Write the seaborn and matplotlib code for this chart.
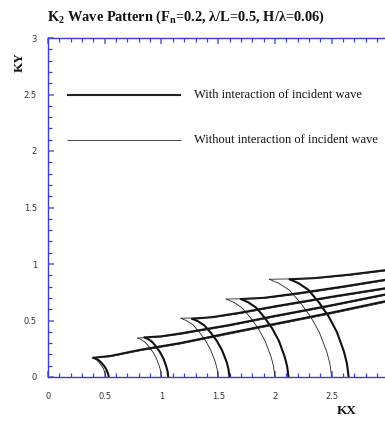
import numpy as np
import pandas as pd
import matplotlib
matplotlib.use("Agg")
import matplotlib.pyplot as plt
import seaborn as sns
from matplotlib.ticker import MultipleLocator, FixedLocator

# ---------------- data ----------------
# transverse wave crests: "with interaction" (thick)
THICK_ARC_X = [
    [0.40, 0.420, 0.443, 0.468, 0.489, 0.508, 0.524, 0.531, 0.535],
    [0.85, 0.882, 0.917, 0.955, 0.989, 1.018, 1.043, 1.054, 1.06],
    [1.27, 1.320, 1.376, 1.435, 1.488, 1.534, 1.574, 1.590, 1.60],
    [1.70, 1.763, 1.834, 1.910, 1.977, 2.036, 2.086, 2.107, 2.12],
    [2.13, 2.208, 2.296, 2.390, 2.473, 2.546, 2.608, 2.634, 2.65],
]
THICK_ARC_Y = [
    [0.17, 0.163, 0.151, 0.129, 0.105, 0.078, 0.044, 0.024, 0.0],
    [0.35, 0.336, 0.312, 0.266, 0.217, 0.161, 0.091, 0.049, 0.0],
    [0.515, 0.494, 0.458, 0.391, 0.319, 0.237, 0.134, 0.072, 0.0],
    [0.69, 0.662, 0.614, 0.524, 0.428, 0.317, 0.179, 0.097, 0.0],
    [0.865, 0.830, 0.770, 0.657, 0.536, 0.398, 0.225, 0.121, 0.0],
]
# transverse wave crests: "without interaction" (thin)
THIN_ARC_X = [
    [0.39, 0.408, 0.428, 0.450, 0.469, 0.486, 0.500, 0.506, 0.51],
    [0.79, 0.822, 0.857, 0.895, 0.929, 0.958, 0.983, 0.994, 1.00],
    [1.17, 1.220, 1.276, 1.335, 1.388, 1.434, 1.474, 1.490, 1.50],
    [1.57, 1.635, 1.708, 1.785, 1.854, 1.914, 1.966, 1.987, 2.00],
    [1.95, 2.033, 2.126, 2.225, 2.313, 2.390, 2.456, 2.484, 2.50],
]
THIN_ARC_Y = [
    [0.17, 0.163, 0.151, 0.129, 0.105, 0.078, 0.044, 0.024, 0.0],
    [0.345, 0.331, 0.307, 0.262, 0.214, 0.159, 0.090, 0.048, 0.0],
    [0.52, 0.499, 0.463, 0.395, 0.322, 0.239, 0.135, 0.073, 0.0],
    [0.69, 0.662, 0.614, 0.524, 0.428, 0.317, 0.179, 0.097, 0.0],
    [0.865, 0.830, 0.770, 0.657, 0.536, 0.398, 0.225, 0.121, 0.0],
]
# divergent wave crests
THICK_DIV_X = [
    [0.40, 0.55, 0.81, 1.165, 1.6, 2.0, 2.5, 2.97],
    [0.85, 1.0, 1.165, 1.6, 2.0, 2.5, 2.97],
    [1.27, 1.45, 1.7, 2.0, 2.5, 2.97],
    [1.70, 1.9, 2.2, 2.6, 2.97],
    [2.13, 2.35, 2.65, 2.97],
]
THICK_DIV_Y = [
    [0.17, 0.186, 0.24, 0.30, 0.39, 0.47, 0.57, 0.67],
    [0.35, 0.36, 0.385, 0.46, 0.54, 0.635, 0.73],
    [0.515, 0.53, 0.57, 0.625, 0.71, 0.785],
    [0.69, 0.70, 0.74, 0.80, 0.86],
    [0.865, 0.875, 0.905, 0.945],
]
THIN_DIV_X = [
    [0.39, 0.55, 0.81, 1.165, 1.6, 2.0, 2.5, 2.97],
    [0.79, 1.0, 1.165, 1.6, 2.0, 2.5, 2.97],
    [1.17, 1.45, 1.7, 2.0, 2.5, 2.97],
    [1.57, 1.9, 2.2, 2.6, 2.97],
    [1.95, 2.35, 2.65, 2.97],
]
THIN_DIV_Y = [
    [0.17, 0.18, 0.232, 0.292, 0.38, 0.46, 0.56, 0.66],
    [0.345, 0.355, 0.377, 0.452, 0.532, 0.627, 0.722],
    [0.52, 0.525, 0.562, 0.617, 0.702, 0.777],
    [0.69, 0.695, 0.732, 0.792, 0.852],
    [0.865, 0.872, 0.899, 0.938],
]
X_TICKS = [0, 0.5, 1, 1.5, 2, 2.5]
X_TICK_LABELS = ["0", "0.5", "1", "1.5", "2", "2.5"]
Y_TICKS = [0, 0.5, 1, 1.5, 2, 2.5, 3]
Y_TICK_LABELS = ["0", "0.5", "1", "1.5", "2", "2.5", "3"]
LEGEND_LABELS = ["With interaction of incident wave",
                 "Without interaction of incident wave"]
LEGEND_X = [0.17, 1.175]
LEGEND_Y = [2.5, 2.1]

# ---------------- build table ----------------
rows = []
cid = 0
for kind, xs_all, ys_all in [("thick", THICK_ARC_X, THICK_ARC_Y),
                             ("thin", THIN_ARC_X, THIN_ARC_Y),
                             ("thick", THICK_DIV_X, THICK_DIV_Y),
                             ("thin", THIN_DIV_X, THIN_DIV_Y)]:
    for xs, ys in zip(xs_all, ys_all):
        for i, (x, y) in enumerate(zip(xs, ys)):
            rows.append(dict(curve=cid, kind=kind, order=i, x=x, y=y))
        cid += 1
df = pd.DataFrame(rows)

# ---------------- style ----------------
sns.set_style("white")
plt.rcParams['font.family'] = ['Liberation Serif', 'DejaVu Sans']
plt.rcParams['mathtext.fontset'] = 'custom'
plt.rcParams['mathtext.rm'] = 'Liberation Serif:bold'
plt.rcParams['mathtext.it'] = 'Liberation Serif:bold'
plt.rcParams['mathtext.bf'] = 'Liberation Serif:bold'

W, H = 385, 424
fig = plt.figure(figsize=(W / 100, H / 100), dpi=100)
fig.patch.set_facecolor("white")
ax = fig.add_axes([48 / W, 1 - 377 / H, 1 - 48 / W, (377 - 38) / H])

styles = {"thick": dict(color="#111111", lw=1.5),
          "thin": dict(color="#222222", lw=0.6)}
for c, sub in df.groupby("curve"):
    k = sub["kind"].iloc[0]
    sns.lineplot(data=sub, x="x", y="y", sort=False, estimator=None,
                 ax=ax, legend=False, **styles[k])

# legend drawn as in reference
lg_style = [dict(color="#222222", lw=1.5), dict(color="#444444", lw=0.7)]
for lab, ly, st in zip(LEGEND_LABELS, LEGEND_Y, lg_style):
    ax.plot(LEGEND_X, [ly, ly], solid_capstyle="butt", **st)
    ax.text(1.29, ly, lab, fontsize=9.0, va="center", ha="left",
            color="#111111", family="Liberation Serif")

ax.set_xlim(0, 2.97)
ax.set_ylim(0, 3)
ax.set_xlabel("")
ax.set_ylabel("")

blue = "#3c3cd6"
for s in ["left", "bottom", "top"]:
    ax.spines[s].set_color(blue)
    ax.spines[s].set_linewidth(1.0)
ax.spines["right"].set_visible(False)

ax.xaxis.set_major_locator(FixedLocator(X_TICKS))
ax.yaxis.set_major_locator(FixedLocator(Y_TICKS))
ax.set_xticklabels(X_TICK_LABELS)
ax.set_yticklabels(Y_TICK_LABELS)
ax.xaxis.set_minor_locator(MultipleLocator(0.1))
ax.yaxis.set_minor_locator(MultipleLocator(0.1))
ax.tick_params(which="both", direction="in", color=blue, top=True,
               right=False, bottom=True, left=True, width=0.9)
ax.tick_params(which="major", length=4, color="#8080e8", width=1.4)
ax.tick_params(which="minor", length=3)
ax.tick_params(axis="x", which="major", pad=11, labelsize=6,
               labelcolor="#333333")
ax.tick_params(axis="y", which="major", pad=8, labelsize=6,
               labelcolor="#333333")
for t in ax.get_xticklabels() + ax.get_yticklabels():
    t.set_family("DejaVu Sans")

fig.text(47 / W, 1 - 21 / H,
         r"K$_{2}$ Wave Pattern (F$_{\mathrm{n}}$=0.2, λ/L=0.5, H/λ=0.06)",
         fontsize=10.4, fontweight="bold", ha="left", va="baseline",
         color="#111111", family="Liberation Serif")
fig.text(20 / W, 1 - 62 / H, "KY", rotation=90, fontsize=9.5,
         fontweight="bold", ha="center", va="center", color="#111111",
         family="Liberation Serif")
fig.text(347 / W, 1 - 411 / H, "KX", fontsize=9.5, fontweight="bold",
         ha="center", va="center", color="#111111",
         family="Liberation Serif")

fig.savefig("out.png", dpi=100, facecolor="white")
